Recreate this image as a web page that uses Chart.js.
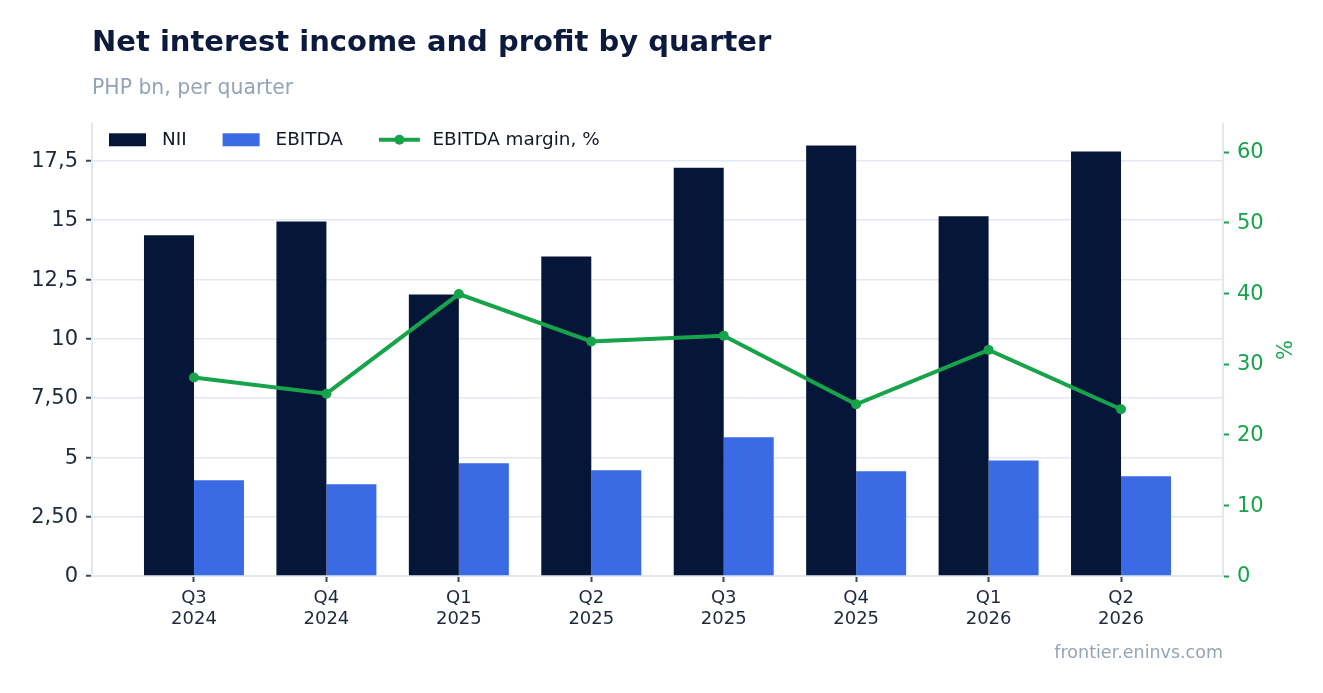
<!DOCTYPE html>
<html>
<head>
<meta charset="utf-8">
<title>Net interest income and profit by quarter</title>
<script src="https://cdn.jsdelivr.net/npm/chart.js@4.4.1/dist/chart.umd.min.js"></script>
<style>
  html, body { margin: 0; padding: 0; background: #fff; }
  #wrap { position: relative; width: 1323px; height: 693px; }
</style>
</head>
<body>
<div id="wrap"><canvas id="niiChart"></canvas></div>
<script>
// Quarters (two-line tick labels)
const categories = [
  ["Q3", "2024"], ["Q4", "2024"], ["Q1", "2025"], ["Q2", "2025"],
  ["Q3", "2025"], ["Q4", "2025"], ["Q1", "2026"], ["Q2", "2026"]
];

// PHP bn, per quarter
const nii = [14.35, 14.93, 11.86, 13.46, 17.2, 18.13, 15.15, 17.88];
const ebitda = [4.03, 3.86, 4.75, 4.45, 5.84, 4.41, 4.87, 4.2];
// %
const ebitdaMargin = [28.1, 25.8, 39.9, 33.2, 34.0, 24.3, 32.0, 23.6];

// tick labels as printed on the axes
const leftTickLabels = ["0", "2,50", "5", "7,50", "10", "12,5", "15", "17,5"];
const rightTickLabels = ["0", "10", "20", "30", "40", "50", "60"];

const NAVY = "#061639";
const BLUE = "#3a6be5";
const GREEN = "#16a34a";
const GRID = "#e2e8f0";
const TICK = "#3f4756";
const TEXT = "#1e293b";

Chart.defaults.font.family = "'DejaVu Sans', sans-serif";

const toPoints = arr => arr.map((v, i) => ({ x: i, y: v }));

// legend inside the plot + source line at the bottom
const extrasPlugin = {
  id: "extras",
  afterDraw(chart) {
    const { ctx, chartArea } = chart;
    const y = chartArea.top + 16;
    let x = chartArea.left + 17;
    ctx.save();
    ctx.font = "18.4px 'DejaVu Sans'";
    ctx.textBaseline = "middle";
    chart.data.datasets.forEach(ds => {
      if (ds.type === "line") {
        ctx.strokeStyle = ds.borderColor;
        ctx.lineWidth = 4;
        ctx.beginPath();
        ctx.moveTo(x, y);
        ctx.lineTo(x + 41, y);
        ctx.stroke();
        ctx.fillStyle = ds.borderColor;
        ctx.beginPath();
        ctx.arc(x + 20.5, y, 5, 0, Math.PI * 2);
        ctx.fill();
        x += 41 + 12.5;
      } else {
        ctx.fillStyle = ds.backgroundColor;
        ctx.fillRect(x, y - 6.5, 37, 13);
        x += 37 + 16;
      }
      ctx.fillStyle = "#111827";
      ctx.fillText(ds.label, x, y + 0.5);
      x += ctx.measureText(ds.label).width + 36;
    });

    ctx.font = "17.5px 'DejaVu Sans'";
    ctx.fillStyle = "#94a3b8";
    ctx.textAlign = "right";
    ctx.textBaseline = "alphabetic";
    ctx.fillText("frontier.eninvs.com", chartArea.right, 658);
    ctx.restore();
  }
};

const config = {
  type: "bar",
  data: {
    datasets: [
      {
        type: "bar",
        label: "NII",
        data: toPoints(nii),
        backgroundColor: NAVY,
        yAxisID: "y",
        order: 2
      },
      {
        type: "bar",
        label: "EBITDA",
        data: toPoints(ebitda),
        backgroundColor: BLUE,
        yAxisID: "y",
        order: 2
      },
      {
        type: "line",
        label: "EBITDA margin, %",
        data: toPoints(ebitdaMargin),
        borderColor: GREEN,
        backgroundColor: GREEN,
        borderWidth: 4,
        pointRadius: 5,
        pointBackgroundColor: GREEN,
        pointBorderWidth: 0,
        tension: 0,
        yAxisID: "y1",
        order: 1
      }
    ]
  },
  options: {
    responsive: true,
    maintainAspectRatio: false,
    animation: false,
    layout: { padding: 0 },
    datasets: {
      bar: { categoryPercentage: 0.755, barPercentage: 1.0 }
    },
    plugins: {
      legend: { display: false },
      tooltip: { enabled: false },
      title: {
        display: true,
        text: "Net interest income and profit by quarter",
        align: "start",
        fullSize: false,
        color: "#0b1a3d",
        font: { size: 29, weight: "bold" },
        padding: { top: 26.5, bottom: 0 }
      },
      subtitle: {
        display: true,
        text: "PHP bn, per quarter",
        align: "start",
        fullSize: false,
        color: "#94a3b8",
        font: { size: 20.4 },
        padding: { top: 15.5, bottom: 22.5 }
      }
    },
    scales: {
      x: {
        type: "linear",
        min: -0.77,
        max: 7.77,
        offset: false,
        grid: {
          offset: false,
          drawOnChartArea: false,
          drawTicks: true,
          tickLength: 6,
          tickColor: TICK,
          tickWidth: 2
        },
        border: { color: GRID, width: 2 },
        ticks: {
          stepSize: 1,
          includeBounds: false,
          autoSkip: false,
          maxRotation: 0,
          padding: 6,
          color: TEXT,
          font: { size: 18, lineHeight: 1.15 },
          callback: value => categories[value]
        },
        afterFit: scale => { scale.height = 117; }
      },
      y: {
        position: "left",
        min: 0,
        max: 19.05,
        grid: {
          color: GRID,
          lineWidth: 1.5,
          tickLength: 6,
          tickColor: TICK,
          tickWidth: 2
        },
        border: { color: GRID, width: 2 },
        ticks: {
          stepSize: 2.5,
          includeBounds: false,
          padding: 8,
          labelOffset: 1,
          color: TEXT,
          font: { size: 21 },
          callback: (value, index) => leftTickLabels[index]
        },
        afterFit: scale => { scale.width = 92; }
      },
      y1: {
        position: "right",
        min: 0,
        max: 64,
        grid: {
          drawOnChartArea: false,
          tickLength: 6,
          tickColor: GREEN,
          tickWidth: 2
        },
        border: { color: GRID, width: 2 },
        ticks: {
          stepSize: 10,
          includeBounds: false,
          padding: 8,
          labelOffset: 1,
          color: GREEN,
          font: { size: 21 },
          callback: (value, index) => rightTickLabels[index]
        },
        title: {
          display: true,
          text: "%",
          color: GREEN,
          font: { size: 21 },
          padding: { top: 29, bottom: 0 }
        },
        afterFit: scale => { scale.width = 100; }
      }
    }
  },
  plugins: [extrasPlugin]
};

window.onload = () => {
  const ctx = document.getElementById("niiChart").getContext("2d");
  new Chart(ctx, config);
};
</script>
</body>
</html>
